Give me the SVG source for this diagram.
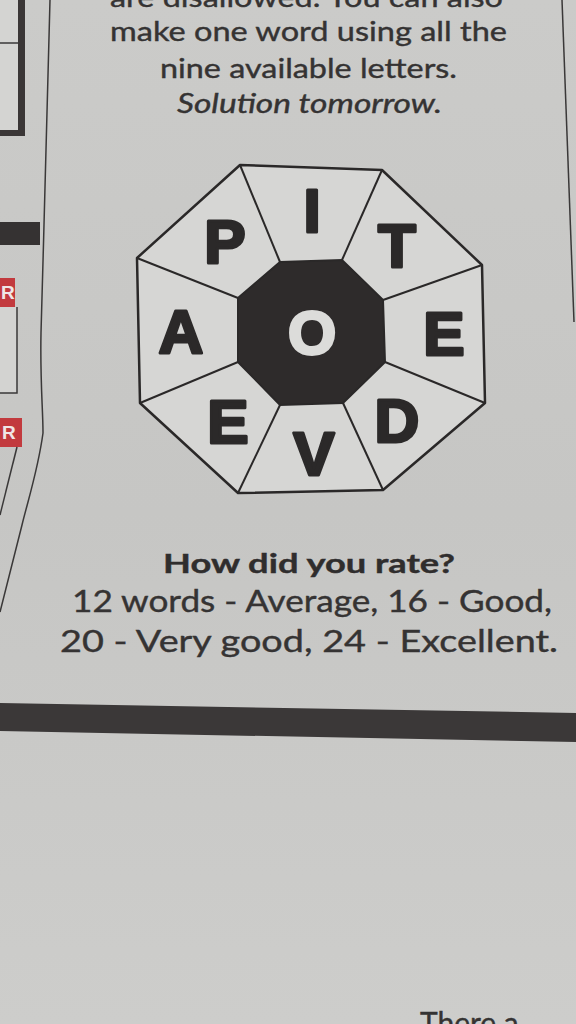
<svg xmlns="http://www.w3.org/2000/svg" width="576" height="1024" viewBox="0 0 576 1024">
<defs>
<linearGradient id="paper" x1="0" y1="0" x2="0" y2="1">
<stop offset="0" stop-color="#cbcbc9"/>
<stop offset="0.5" stop-color="#c6c6c4"/>
<stop offset="1" stop-color="#cdcdcb"/>
</linearGradient>
<style>
.body{font-family:Lato,"Open Sans","Liberation Sans",sans-serif;font-size:27px;fill:#353333;stroke:#353333;stroke-width:0.4}
.ital{font-style:italic}
.bold{font-weight:bold}
.rate{font-family:Lato,"Open Sans","Liberation Sans",sans-serif;font-size:31px;fill:#353333;stroke:#353333;stroke-width:0.4}
.letter{font-family:"Liberation Sans",Arial,sans-serif;font-weight:bold;font-size:62px;fill:#2b2929;stroke:#2b2929;stroke-width:3;stroke-linejoin:round;text-anchor:middle}
.cell{fill:#d6d6d4;stroke:#2a2828;stroke-width:2.5;stroke-linejoin:round}
.spoke{stroke:#2a2828;stroke-width:2;fill:none}
.rule{stroke:#3a3838;stroke-width:1.5;fill:none}
.red{fill:#c23a3e}
.redtxt{font-family:"Liberation Sans",Arial,sans-serif;font-weight:bold;font-size:19px;fill:#f0e6e6}
</style>
</defs>
<rect x="0" y="0" width="576" height="1024" fill="url(#paper)"/>
<g id="left-margin">
<rect x="0" y="0" width="21" height="133" fill="#d4d4d2"/>
<line x1="0" y1="43" x2="19" y2="43" class="rule"/>
<rect x="18" y="0" width="7" height="136" fill="#3a3636"/>
<rect x="0" y="130" width="25" height="6" fill="#3a3636"/>
<rect x="0" y="222" width="40" height="23" fill="#353232"/>
<rect x="0" y="278" width="15" height="29" class="red"/>
<text x="1" y="299" class="redtxt">R</text>
<rect x="0" y="307" width="17" height="86" fill="#d3d3d1"/>
<polyline points="17,307 17,393 0,393" class="rule"/>
<rect x="0" y="418" width="22" height="29" class="red"/>
<text x="2" y="439" class="redtxt">R</text>
<line x1="17" y1="447" x2="0" y2="515" class="rule"/>
<path d="M50,0 C48,100 44,220 41,333 C40,380 43,410 43,433 C38,470 28,500 22,525 L0,612" class="rule"/>
</g>
<line x1="562" y1="0" x2="574" y2="322" class="rule"/>
<g id="intro-text">
<text x="110" y="7" class="body" textLength="393" lengthAdjust="spacingAndGlyphs">are disallowed. You can also</text>
<text x="110" y="41" class="body" textLength="397" lengthAdjust="spacingAndGlyphs">make one word using all the</text>
<text x="160" y="78" class="body" textLength="297" lengthAdjust="spacingAndGlyphs">nine available letters.</text>
<text x="177" y="113" class="body ital" textLength="265" lengthAdjust="spacingAndGlyphs">Solution tomorrow.</text>
</g>
<g id="puzzle">
<polygon class="cell" points="240,165 382,170 482,265 485,403 383,490 238,493 140,403 137,258"/>
<g id="connectors">
<line class="spoke" x1="280" y1="262" x2="240" y2="165"/>
<line class="spoke" x1="342" y1="260" x2="382" y2="170"/>
<line class="spoke" x1="383" y1="300" x2="482" y2="265"/>
<line class="spoke" x1="385" y1="362" x2="485" y2="403"/>
<line class="spoke" x1="343" y1="403" x2="383" y2="490"/>
<line class="spoke" x1="280" y1="405" x2="238" y2="493"/>
<line class="spoke" x1="238" y1="362" x2="140" y2="403"/>
<line class="spoke" x1="238" y1="298" x2="137" y2="258"/>
</g>
<g id="centre">
<polygon points="280,262 342,260 383,300 385,362 343,403 280,405 238,362 238,298" fill="#2e2b2b" stroke="#2a2828" stroke-width="2"/>
<text x="312" y="354" class="letter" style="fill:#dcdcda;stroke:#dcdcda">O</text>
</g>
<g id="cell-I"><text x="312" y="232" class="letter">I</text></g>
<g id="cell-T"><text x="397" y="267" class="letter">T</text></g>
<g id="cell-E1"><text x="444" y="355" class="letter">E</text></g>
<g id="cell-D"><text x="397" y="442" class="letter">D</text></g>
<g id="cell-V"><text x="314" y="475" class="letter">V</text></g>
<g id="cell-E2"><text x="228" y="443" class="letter">E</text></g>
<g id="cell-A"><text x="181" y="353" class="letter">A</text></g>
<g id="cell-P"><text x="225" y="263" class="letter">P</text></g>
</g>
<g id="rating">
<text x="163" y="573" class="body bold" style="fill:#2f2d2d;stroke:#2f2d2d" textLength="292" lengthAdjust="spacingAndGlyphs">How did you rate?</text>
<text x="72" y="612" class="rate" textLength="480" lengthAdjust="spacingAndGlyphs">12 words - Average, 16 - Good,</text>
<text x="60" y="652" class="rate" textLength="498" lengthAdjust="spacingAndGlyphs">20 - Very good, 24 - Excellent.</text>
</g>
<polygon points="0,703 576,713 576,742 0,731" fill="#3b3838"/>
<text x="420" y="1034" class="body" style="font-size:30px">There a</text>
</svg>
